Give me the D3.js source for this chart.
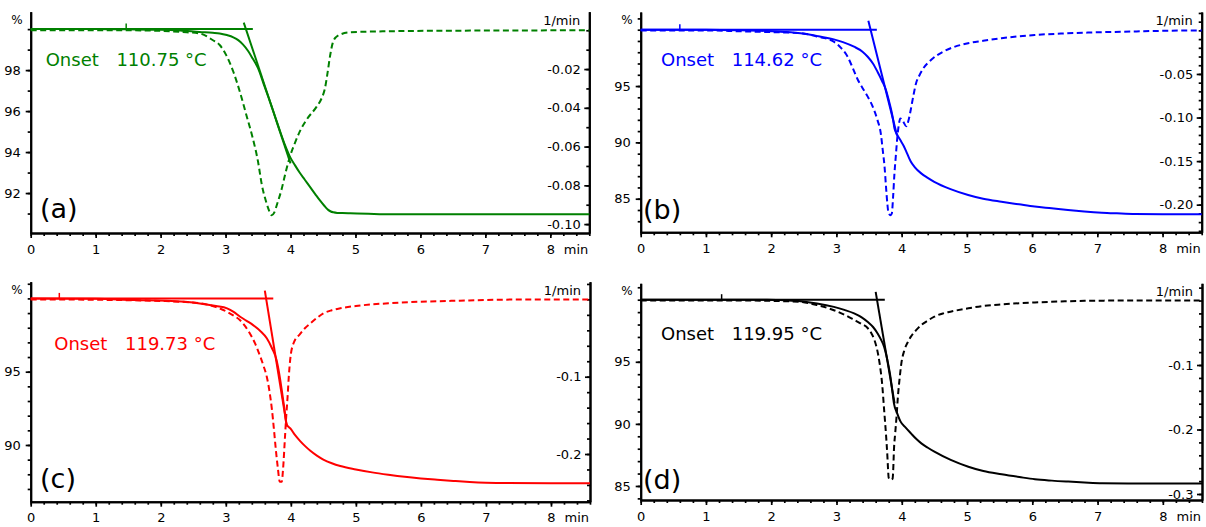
<!DOCTYPE html>
<html>
<head>
<meta charset="utf-8">
<script src="https://cdn.jsdelivr.net/npm/d3@7"></script>
<style>
  html, body { margin: 0; padding: 0; background: #fff; }
  svg { display: block; font-family: "DejaVu Sans", Verdana, sans-serif; }
</style>
</head>
<body>
<svg id="chart" width="1206" height="527"></svg>
<script>
// ---------- shared axis data ----------
const timeDomain = [0, 8.6];
const timeTicks = [0, 1, 2, 3, 4, 5, 6, 7, 8];
const panelLabels = ["(a)", "(b)", "(c)", "(d)"];
const onsetTemps = [110.75, 114.62, 119.73, 119.95];

// ---------- sample (a) ----------
const timeA = [0, 1.0, 1.5, 2.0, 2.3, 2.6, 2.8, 2.91, 3.02, 3.12, 3.2, 3.27, 3.35, 3.42, 3.5, 3.6, 3.68, 3.76, 3.84, 3.92, 3.99, 4.07, 4.14, 4.22, 4.3, 4.38, 4.45, 4.52, 4.58, 4.62, 4.66, 4.72, 4.8, 4.92, 5.2, 5.43, 6.0, 7.0, 8.0, 8.6];
const massA = [100, 100, 99.99, 99.97, 99.93, 99.86, 99.82, 99.79, 99.71, 99.6, 99.45, 99.24, 98.92, 98.55, 98.1, 97.2, 96.5, 95.75, 95.0, 94.3, 93.78, 93.35, 93.0, 92.65, 92.3, 91.95, 91.65, 91.38, 91.18, 91.1, 91.06, 91.03, 91.02, 91.01, 90.99, 90.97, 90.96, 90.96, 90.96, 90.96];
const rateTimeA = [0, 1.5, 2.0, 2.4, 2.6, 2.8, 2.91, 3.01, 3.12, 3.22, 3.32, 3.42, 3.5, 3.56, 3.62, 3.67, 3.71, 3.75, 3.8, 3.86, 3.92, 3.99, 4.07, 4.14, 4.25, 4.4, 4.48, 4.53, 4.57, 4.61, 4.65, 4.7, 4.78, 4.92, 5.5, 6.5, 8.6];
const rateA = [0, 0, -0.0003, -0.001, -0.0016, -0.005, -0.0076, -0.0128, -0.0214, -0.0317, -0.0437, -0.0558, -0.0678, -0.08, -0.088, -0.093, -0.0954, -0.094, -0.089, -0.0824, -0.074, -0.0653, -0.058, -0.0524, -0.046, -0.0395, -0.035, -0.03, -0.022, -0.013, -0.0065, -0.0035, -0.002, -0.001, -0.0005, -0.0002, 0];
const massDomainA = [90.05, 100.85];
const rateDomainA = [-0.1046, 0.0096];
const massTicksA = [92, 94, 96, 98];
const rateTicksA = [-0.02, -0.04, -0.06, -0.08, -0.10];
const baselineA = [[0, 100], [3.42, 100]];
const tangentA = [[3.28, 100.32], [4.0, 93.45]];
const markA = 1.47;

// ---------- sample (b) ----------
const timeB = [0, 1.0, 1.5, 1.94, 2.2, 2.45, 2.7, 2.96, 3.1, 3.27, 3.4, 3.48, 3.56, 3.63, 3.7, 3.76, 3.8, 3.84, 3.87, 3.89, 3.93, 3.98, 4.03, 4.07, 4.1, 4.14, 4.2, 4.3, 4.4, 4.5, 4.75, 5.02, 5.25, 5.53, 5.8, 6.04, 6.3, 6.55, 6.8, 7.07, 7.3, 7.58, 8.0, 8.6];
const massB = [100, 99.99, 99.95, 99.88, 99.8, 99.68, 99.45, 99.14, 98.9, 98.49, 98.05, 97.6, 97.0, 96.27, 95.45, 94.65, 93.8, 92.87, 92.0, 91.25, 90.7, 90.2, 89.7, 89.2, 88.8, 88.3, 87.8, 87.25, 86.85, 86.5, 85.85, 85.33, 85.0, 84.73, 84.5, 84.3, 84.15, 84.0, 83.87, 83.76, 83.7, 83.64, 83.62, 83.62];
const rateTimeB = [0, 1.0, 1.5, 2.0, 2.45, 2.7, 2.96, 3.07, 3.17, 3.25, 3.33, 3.4, 3.48, 3.56, 3.63, 3.68, 3.71, 3.74, 3.76, 3.78, 3.8, 3.83, 3.85, 3.87, 3.89, 3.91, 3.93, 3.95, 3.98, 4.02, 4.07, 4.11, 4.14, 4.18, 4.22, 4.27, 4.32, 4.45, 4.65, 5.0, 5.25, 5.53, 6.04, 6.5, 7.0, 7.6, 8.0, 8.6];
const rateB = [0, 0, -0.001, -0.002, -0.003, -0.007, -0.013, -0.02, -0.03, -0.043, -0.057, -0.066, -0.076, -0.088, -0.103, -0.118, -0.137, -0.158, -0.179, -0.198, -0.21, -0.212, -0.21, -0.19, -0.164, -0.145, -0.126, -0.112, -0.101, -0.104, -0.11, -0.102, -0.091, -0.075, -0.061, -0.052, -0.045, -0.034, -0.024, -0.015, -0.012, -0.009, -0.0053, -0.0035, -0.0022, -0.0012, -0.0005, 0];
const massDomainB = [82.02, 101.57];
const rateDomainB = [-0.2317, 0.0211];
const massTicksB = [85, 90, 95];
const rateTicksB = [-0.05, -0.10, -0.15, -0.20];
const baselineB = [[0, 100], [3.62, 100]];
const tangentB = [[3.49, 100.79], [3.93, 90.6]];
const markB = 0.6;

// ---------- sample (c) ----------
const timeC = [0, 1.0, 1.58, 2.09, 2.6, 2.85, 3.02, 3.12, 3.22, 3.32, 3.42, 3.53, 3.63, 3.71, 3.78, 3.82, 3.86, 3.9, 3.93, 3.96, 3.99, 4.06, 4.14, 4.22, 4.3, 4.4, 4.5, 4.63, 4.76, 5.0, 5.25, 5.5, 5.75, 6.0, 6.25, 6.5, 6.75, 7.0, 7.3, 8.0, 8.6];
const massC = [100, 99.97, 99.89, 99.84, 99.66, 99.48, 99.32, 99.08, 98.75, 98.47, 98.18, 97.78, 97.28, 96.6, 95.8, 94.9, 93.75, 92.5, 91.48, 91.25, 91.14, 90.7, 90.28, 89.92, 89.6, 89.27, 89.0, 88.75, 88.56, 88.33, 88.13, 87.97, 87.83, 87.72, 87.63, 87.55, 87.48, 87.43, 87.4, 87.39, 87.39];
const rateTimeC = [0, 1.0, 2.0, 2.6, 2.85, 3.02, 3.12, 3.22, 3.3, 3.37, 3.45, 3.53, 3.58, 3.63, 3.67, 3.71, 3.74, 3.77, 3.8, 3.83, 3.86, 3.88, 3.91, 3.93, 3.95, 3.97, 3.99, 4.04, 4.14, 4.22, 4.3, 4.4, 4.5, 4.63, 4.76, 5.0, 5.25, 5.5, 6.0, 6.5, 7.0, 7.3, 8.0, 8.6];
const rateC = [0, -0.0005, -0.002, -0.005, -0.01, -0.016, -0.021, -0.027, -0.035, -0.044, -0.057, -0.074, -0.086, -0.1, -0.118, -0.143, -0.168, -0.195, -0.218, -0.236, -0.236, -0.22, -0.178, -0.15, -0.126, -0.098, -0.078, -0.057, -0.045, -0.037, -0.031, -0.024, -0.018, -0.014, -0.0115, -0.0085, -0.0065, -0.005, -0.003, -0.0018, -0.0008, -0.0003, 0, 0];
const massDomainC = [86.13, 101.14];
const rateDomainC = [-0.2617, 0.0229];
const massTicksC = [90, 95];
const rateTicksC = [-0.1, -0.2];
const baselineC = [[0, 100], [3.73, 100]];
const tangentC = [[3.6, 100.53], [3.94, 91.25]];
const markC = 0.44;

// ---------- sample (d) ----------
const timeD = [0, 1.0, 1.94, 2.2, 2.45, 2.7, 2.96, 3.12, 3.27, 3.38, 3.48, 3.56, 3.63, 3.68, 3.73, 3.76, 3.79, 3.82, 3.84, 3.86, 3.88, 3.93, 3.98, 4.06, 4.14, 4.22, 4.3, 4.4, 4.5, 4.75, 5.02, 5.25, 5.53, 5.8, 6.04, 6.3, 6.55, 6.8, 7.07, 7.5, 8.6];
const massD = [100, 100, 100, 99.95, 99.88, 99.7, 99.42, 99.18, 98.9, 98.6, 98.2, 97.8, 97.28, 96.8, 96.2, 95.6, 94.87, 94.0, 93.26, 92.45, 91.65, 90.85, 90.2, 89.7, 89.24, 88.8, 88.43, 88.08, 87.76, 87.1, 86.55, 86.2, 85.94, 85.72, 85.54, 85.43, 85.35, 85.28, 85.22, 85.2, 85.2];
const rateTimeD = [0, 1.5, 2.2, 2.45, 2.7, 2.96, 3.12, 3.27, 3.38, 3.48, 3.53, 3.58, 3.62, 3.66, 3.7, 3.73, 3.76, 3.78, 3.79, 3.8, 3.83, 3.86, 3.87, 3.88, 3.9, 3.92, 3.94, 3.97, 3.99, 4.04, 4.09, 4.14, 4.22, 4.3, 4.4, 4.5, 4.63, 4.76, 5.02, 5.25, 5.53, 6.04, 6.5, 6.8, 7.5, 8.6];
const rateD = [0, 0, -0.001, -0.002, -0.007, -0.015, -0.022, -0.03, -0.036, -0.043, -0.05, -0.061, -0.075, -0.097, -0.13, -0.17, -0.21, -0.242, -0.262, -0.275, -0.278, -0.276, -0.26, -0.232, -0.205, -0.18, -0.15, -0.118, -0.1, -0.077, -0.065, -0.056, -0.046, -0.038, -0.031, -0.025, -0.02, -0.017, -0.012, -0.0085, -0.006, -0.003, -0.0012, -0.0005, 0, 0];
const massDomainD = [83.87, 101.32];
const rateDomainD = [-0.3093, 0.0267];
const massTicksD = [85, 90, 95];
const rateTicksD = [-0.1, -0.2, -0.3];
const baselineD = [[0, 100], [3.74, 100]];
const tangentD = [[3.6, 100.63], [3.89, 91.65]];
const markD = 1.24;

// ---------- panel layout ----------
const locale = d3.formatLocale({ decimal: ".", thousands: ",", grouping: [3], currency: ["", ""], minus: "-" });

const panels = [
  { color: "#008000", frame: { x0: 30.7, x1: 589.3, y0: 11.7, y1: 233 },
    time: timeA, mass: massA, rateTime: rateTimeA, rate: rateA,
    massDomain: massDomainA, rateDomain: rateDomainA, massTicks: massTicksA, rateTicks: rateTicksA,
    rateMinor: 0.01, rateFmt: ".2f", baseline: baselineA, tangent: tangentA, mark: markA,
    onset: onsetTemps[0], label: panelLabels[0], onsetPos: [45.7, 65.5], labelPos: [40, 218] },
  { color: "#0000ff", frame: { x0: 640.7, x1: 1201.7, y0: 12, y1: 232.3 },
    time: timeB, mass: massB, rateTime: rateTimeB, rate: rateB,
    massDomain: massDomainB, rateDomain: rateDomainB, massTicks: massTicksB, rateTicks: rateTicksB,
    rateMinor: 0.01, rateFmt: ".2f", baseline: baselineB, tangent: tangentB, mark: markB,
    onset: onsetTemps[1], label: panelLabels[1], onsetPos: [661, 66.3], labelPos: [643, 219] },
  { color: "#ff0000", frame: { x0: 30.7, x1: 590, y0: 281.7, y1: 501.7 },
    time: timeC, mass: massC, rateTime: rateTimeC, rate: rateC,
    massDomain: massDomainC, rateDomain: rateDomainC, massTicks: massTicksC, rateTicks: rateTicksC,
    rateMinor: 0.02, rateFmt: ".1f", baseline: baselineC, tangent: tangentC, mark: markC,
    onset: onsetTemps[2], label: panelLabels[2], onsetPos: [54.3, 350], labelPos: [40, 488] },
  { color: "#000000", frame: { x0: 640.7, x1: 1202, y0: 283.3, y1: 500 },
    time: timeD, mass: massD, rateTime: rateTimeD, rate: rateD,
    massDomain: massDomainD, rateDomain: rateDomainD, massTicks: massTicksD, rateTicks: rateTicksD,
    rateMinor: 0.02, rateFmt: ".1f", baseline: baselineD, tangent: tangentD, mark: markD,
    onset: onsetTemps[3], label: panelLabels[3], onsetPos: [661, 339.5], labelPos: [643, 489] }
];

const svg = d3.select("#chart");

function styleAxis(sel) {
  sel.select(".domain").attr("stroke", "#000").attr("stroke-width", 2);
  sel.selectAll(".tick line").attr("stroke", "#000").attr("stroke-width", 1.7);
  sel.selectAll(".tick text").attr("fill", "#000").style("font-size", "13px")
     .style("font-family", '"DejaVu Sans", Verdana, sans-serif');
}

function minorValues(domain, step) {
  const lo = Math.ceil(domain[0] / step - 1e-9), hi = Math.floor(domain[1] / step + 1e-9);
  return d3.range(lo, hi + 1).map(k => +(k * step).toFixed(6));
}

function drawPanel(p) {
  const f = p.frame;
  const x = d3.scaleLinear().domain(timeDomain).range([f.x0, f.x1]);
  const yM = d3.scaleLinear().domain(p.massDomain).range([f.y1, f.y0]);
  const yR = d3.scaleLinear().domain(p.rateDomain).range([f.y1, f.y0]);
  const g = svg.append("g");

  // bottom time axis: minor ticks every 0.2 min, then labelled minutes
  g.append("g").attr("transform", `translate(0,${f.y1})`)
    .call(d3.axisBottom(x).tickValues(minorValues(timeDomain, 0.2)).tickSize(3).tickFormat("").tickSizeOuter(0))
    .call(styleAxis);
  g.append("g").attr("transform", `translate(0,${f.y1})`)
    .call(d3.axisBottom(x).tickValues(timeTicks).tickSize(5).tickPadding(6.3).tickFormat(d3.format("d")).tickSizeOuter(0))
    .call(styleAxis);

  // left mass axis (%)
  g.append("g").attr("transform", `translate(${f.x0},0)`)
    .call(d3.axisLeft(yM).tickValues(minorValues(p.massDomain, 1)).tickSize(3).tickFormat("").tickSizeOuter(0))
    .call(styleAxis);
  g.append("g").attr("transform", `translate(${f.x0},0)`)
    .call(d3.axisLeft(yM).tickValues(p.massTicks).tickSize(5).tickPadding(5).tickFormat(d3.format("d")).tickSizeOuter(0))
    .call(styleAxis);

  // right rate axis (1/min), ticks and labels inside the plot
  g.append("g").attr("transform", `translate(${f.x1},0)`)
    .call(d3.axisLeft(yR).tickValues(minorValues(p.rateDomain, p.rateMinor)).tickSize(3).tickFormat("").tickSizeOuter(0))
    .call(styleAxis);
  g.append("g").attr("transform", `translate(${f.x1},0)`)
    .call(d3.axisLeft(yR).tickValues(p.rateTicks).tickSize(5).tickPadding(3.5).tickFormat(locale.format(p.rateFmt)).tickSizeOuter(0))
    .call(styleAxis);

  // unit labels
  g.append("text").attr("x", f.x0 - 8).attr("y", f.y0 + 12).attr("text-anchor", "end")
    .style("font-size", "12px").attr("fill", "#000").text("%");
  g.append("text").attr("x", f.x1 - 9).attr("y", f.y0 + 13).attr("text-anchor", "end")
    .style("font-size", "13px").attr("fill", "#000").text("1/min");
  g.append("text").attr("x", f.x1 - 1).attr("y", f.y1 + 20.5).attr("text-anchor", "end")
    .style("font-size", "13px").attr("fill", "#000").text("min");

  const lineM = d3.line().x(d => x(d[0])).y(d => yM(d[1])).curve(d3.curveMonotoneX);
  const lineR = d3.line().x(d => x(d[0])).y(d => yR(d[1])).curve(d3.curveMonotoneX);
  const straight = d3.line().x(d => x(d[0])).y(d => yM(d[1]));

  // derivative curve (dashed)
  g.append("path").datum(d3.zip(p.rateTime, p.rate)).attr("d", lineR)
    .attr("fill", "none").attr("stroke", p.color).attr("stroke-width", 2)
    .attr("stroke-dasharray", "6,3.5");

  // mass curve (solid)
  g.append("path").datum(d3.zip(p.time, p.mass)).attr("d", lineM)
    .attr("fill", "none").attr("stroke", p.color).attr("stroke-width", 2);

  // onset construction: baseline, inflection tangent, start marker
  g.append("path").datum(p.baseline).attr("d", straight)
    .attr("fill", "none").attr("stroke", p.color).attr("stroke-width", 2);
  g.append("path").datum(p.tangent).attr("d", straight)
    .attr("fill", "none").attr("stroke", p.color).attr("stroke-width", 2);
  g.append("line")
    .attr("x1", x(p.mark)).attr("x2", x(p.mark))
    .attr("y1", yM(100) - 5.5).attr("y2", yM(100) + 0.5)
    .attr("stroke", p.color).attr("stroke-width", 1.5);

  // onset annotation
  g.append("text").attr("x", p.onsetPos[0]).attr("y", p.onsetPos[1])
    .style("font-size", "18px").attr("fill", p.color).text("Onset");
  g.append("text").attr("x", p.onsetPos[0] + 70.7).attr("y", p.onsetPos[1])
    .style("font-size", "18px").attr("fill", p.color).text(p.onset.toFixed(2) + " °C");

  // panel tag
  g.append("text").attr("x", p.labelPos[0]).attr("y", p.labelPos[1])
    .style("font-size", "27px").attr("fill", "#000").text(p.label);
}

panels.forEach(drawPanel);
</script>
</body>
</html>
